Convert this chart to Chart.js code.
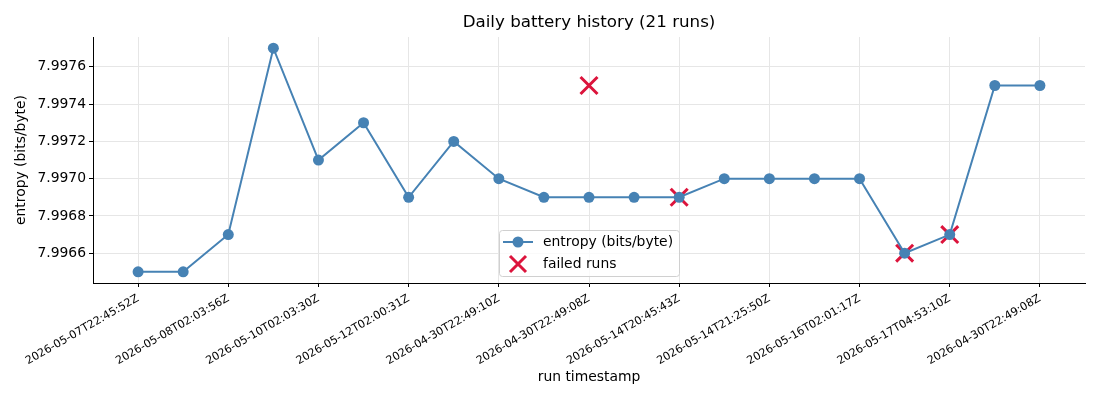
<!DOCTYPE html>
<html>
<head>
<meta charset="utf-8">
<script src="https://cdn.jsdelivr.net/npm/chart.js@4/dist/chart.umd.min.js"></script>
<style>
  html, body { margin: 0; padding: 0; background: #fff; }
  #wrap { width: 1100px; height: 400px; }
</style>
</head>
<body>
<div id="wrap"><canvas id="batteryChart" width="1100" height="400"></canvas></div>
<script>
// run index -> entropy reading
const runIndex = [0, 1, 2, 3, 4, 5, 6, 7, 8, 9, 10, 11, 12, 13, 14, 15, 16, 17, 18, 19, 20];
const entropy = [
  7.9965, 7.9965, 7.9967, 7.9977, 7.9971, 7.9973, 7.9969, 7.9972, 7.9970, 7.9969,
  7.9969, 7.9969, 7.9969, 7.9970, 7.9970, 7.9970, 7.9970, 7.9966, 7.9967, 7.9975, 7.9975
];

// failed runs (index, value)
const failedIndex = [10, 12, 17, 18];
const failedEntropy = [7.9975, 7.9969, 7.9966, 7.9967];

// only every other run gets a label
const tickPositions = [0, 2, 4, 6, 8, 10, 12, 14, 16, 18, 20];
const tickLabels = [
  "2026-05-07T22:45:52Z",
  "2026-05-08T02:03:56Z",
  "2026-05-10T02:03:30Z",
  "2026-05-12T02:00:31Z",
  "2026-04-30T22:49:10Z",
  "2026-04-30T22:49:08Z",
  "2026-05-14T20:45:43Z",
  "2026-05-14T21:25:50Z",
  "2026-05-16T02:01:17Z",
  "2026-05-17T04:53:10Z",
  "2026-04-30T22:49:08Z"
];
const yTicks = [7.9966, 7.9968, 7.9970, 7.9972, 7.9974, 7.9976];

const LINE_COLOR = "#4682b4";
const FAIL_COLOR = "#dc143c";
const FONT = "'DejaVu Sans', sans-serif";

// legend drawn inside the plot, bottom centre
const legendBox = {
  id: "legendBox",
  afterDatasetsDraw(chart) {
    const { ctx, chartArea } = chart;
    const w = 180, h = 46;
    const x = Math.round((chartArea.left + chartArea.right) / 2 - w / 2);
    const y = Math.round(chartArea.bottom - 7 - h);
    ctx.save();
    ctx.fillStyle = "rgba(255,255,255,0.8)";
    ctx.strokeStyle = "#d0d0d0";
    ctx.lineWidth = 1;
    ctx.beginPath();
    ctx.roundRect(x + 0.5, y + 0.5, w, h, 3);
    ctx.fill();
    ctx.stroke();

    // entry 1: line + dot
    const y1 = y + 12, y2 = y + 34;
    ctx.strokeStyle = LINE_COLOR;
    ctx.lineWidth = 2;
    ctx.beginPath();
    ctx.moveTo(x + 4, y1);
    ctx.lineTo(x + 34, y1);
    ctx.stroke();
    ctx.fillStyle = LINE_COLOR;
    ctx.beginPath();
    ctx.arc(x + 19, y1, 5.5, 0, Math.PI * 2);
    ctx.fill();

    // entry 2: cross
    ctx.strokeStyle = FAIL_COLOR;
    ctx.lineWidth = 3;
    ctx.beginPath();
    ctx.moveTo(x + 11, y2 - 8);
    ctx.lineTo(x + 27, y2 + 8);
    ctx.moveTo(x + 27, y2 - 8);
    ctx.lineTo(x + 11, y2 + 8);
    ctx.stroke();

    ctx.fillStyle = "#000";
    ctx.font = "13.9px " + FONT;
    ctx.textBaseline = "middle";
    ctx.textAlign = "left";
    ctx.fillText("entropy (bits/byte)", x + 44, y1);
    ctx.fillText("failed runs", x + 44, y2);
    ctx.restore();
  }
};

const ctx = document.getElementById("batteryChart").getContext("2d");
const batteryChart = new Chart(ctx, {
  type: "line",
  data: {
    datasets: [
      {
        label: "entropy (bits/byte)",
        data: runIndex.map((r, i) => ({ x: r, y: entropy[i] })),
        borderColor: LINE_COLOR,
        backgroundColor: LINE_COLOR,
        borderWidth: 2,
        pointRadius: 5.5,
        pointBorderWidth: 0,
        pointHoverRadius: 5.5,
        tension: 0
      },
      {
        label: "failed runs",
        data: failedIndex.map((r, i) => ({ x: r, y: failedEntropy[i] })),
        showLine: false,
        pointStyle: "crossRot",
        pointRadius: 12,
        pointHoverRadius: 12,
        borderColor: FAIL_COLOR,
        pointBorderWidth: 3,
        pointHoverBorderWidth: 3
      }
    ]
  },
  options: {
    responsive: false,
    animation: false,
    devicePixelRatio: 1,
    layout: { padding: { left: 0, right: 15, top: 0, bottom: 0 } },
    plugins: {
      legend: { display: false },
      tooltip: { enabled: false },
      title: {
        display: true,
        fullSize: false,
        text: "Daily battery history (21 runs)",
        color: "#000",
        font: { family: FONT, size: 16.7, weight: "normal" },
        padding: { top: 13, bottom: 4 }
      }
    },
    scales: {
      x: {
        type: "linear",
        min: -1,
        max: 21,
        afterBuildTicks: (s) => { s.ticks = tickPositions.map((v) => ({ value: v })); },
        afterFit: (s) => { s.height = 117; },
        ticks: {
          autoSkip: false,
          minRotation: 30,
          maxRotation: 30,
          padding: 5,
          color: "#000",
          font: { family: FONT, size: 11.1 },
          callback: (v) => tickLabels[tickPositions.indexOf(v)]
        },
        grid: { color: "#e6e6e6", tickColor: "#000", tickLength: 4 },
        border: { color: "#000", width: 1 },
        title: {
          display: true,
          text: "run timestamp",
          color: "#000",
          font: { family: FONT, size: 13.9 },
          padding: { top: 4, bottom: 14 }
        }
      },
      y: {
        min: 7.99644,
        max: 7.99776,
        afterBuildTicks: (s) => { s.ticks = yTicks.map((v) => ({ value: v })); },
        afterFit: (s) => { s.width = 93; },
        ticks: {
          padding: 3,
          color: "#000",
          font: { family: FONT, size: 13.9 },
          callback: (v) => v.toFixed(4)
        },
        grid: { color: "#e6e6e6", tickColor: "#000", tickLength: 4 },
        border: { color: "#000", width: 1 },
        title: {
          display: true,
          text: "entropy (bits/byte)",
          color: "#000",
          font: { family: FONT, size: 13.9 },
          padding: { top: 13, bottom: 0 }
        }
      }
    }
  },
  plugins: [legendBox]
});
</script>
</body>
</html>
